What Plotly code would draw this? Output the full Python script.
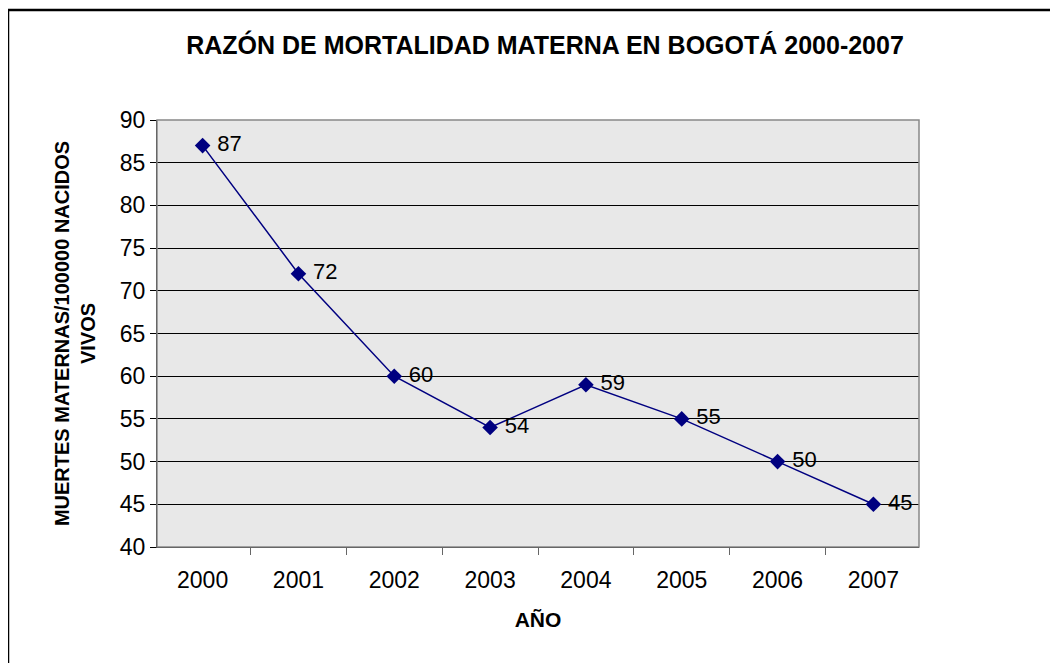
import plotly.graph_objects as go

# datos
anios = ['2000', '2001', '2002', '2003', '2004', '2005', '2006', '2007']
razon = [87, 72, 60, 54, 59, 55, 50, 45]

fig = go.Figure()
fig.add_trace(go.Scatter(
    x=anios, y=razon, mode='lines+markers+text',
    line=dict(color='#000080', width=1.5),
    marker=dict(symbol='diamond', size=12, color='#000080'),
    text=razon, texttemplate=' %{text}', textposition='middle right',
    textfont=dict(family='Liberation Sans, Arial', size=22, color='black'),
    cliponaxis=False, showlegend=False))

# la pagina tiene 8px de margen en el body, se compensa aqui
L, R, T, B = 149, 911, 112, 539

# marco exterior
fig.add_shape(type='rect', xref='paper', yref='paper',
              x0=(0 - L) / (R - L), x1=1.4, y0=-0.5, y1=(B - 2) / (B - T),
              line=dict(color='black', width=2.5), layer='below')
# marco del area de trazado
fig.add_shape(type='rect', xref='paper', yref='paper', x0=0, x1=1, y0=0, y1=1,
              line=dict(color='#888888', width=1.5))

fig.update_layout(
    width=1058, height=663,
    margin=dict(l=L, r=1058 - R, t=T, b=663 - B),
    paper_bgcolor='white', plot_bgcolor='#E8E8E8',
    font=dict(family='Liberation Sans, Arial', size=23, color='black'),
    title=dict(text='<b>RAZÓN DE MORTALIDAD MATERNA EN BOGOTÁ 2000-2007</b>',
               x=537 / 1058, xref='container', xanchor='center',
               y=1 - 37 / 663, yref='container', yanchor='middle',
               font=dict(size=25)),
    xaxis=dict(type='category', tickson='boundaries', ticks='outside', ticklen=7,
               tickcolor='#666666', showgrid=False, showline=True, linecolor='black',
               linewidth=1, tickfont=dict(size=23), ticklabelstandoff=12,
               title=dict(text='<b>AÑO</b>', font=dict(size=21), standoff=20)),
    yaxis=dict(range=[40, 90], dtick=5, ticks='outside', ticklen=6, tickcolor='black',
               showgrid=True, gridcolor='black', gridwidth=1, zeroline=False,
               showline=True, linecolor='black', linewidth=1, tickfont=dict(size=23),
               title=dict(text='<b>MUERTES MATERNAS/100000 NACIDOS<br>VIVOS</b>',
                          font=dict(size=20), standoff=18)),
)

fig.write_html('out.html')
